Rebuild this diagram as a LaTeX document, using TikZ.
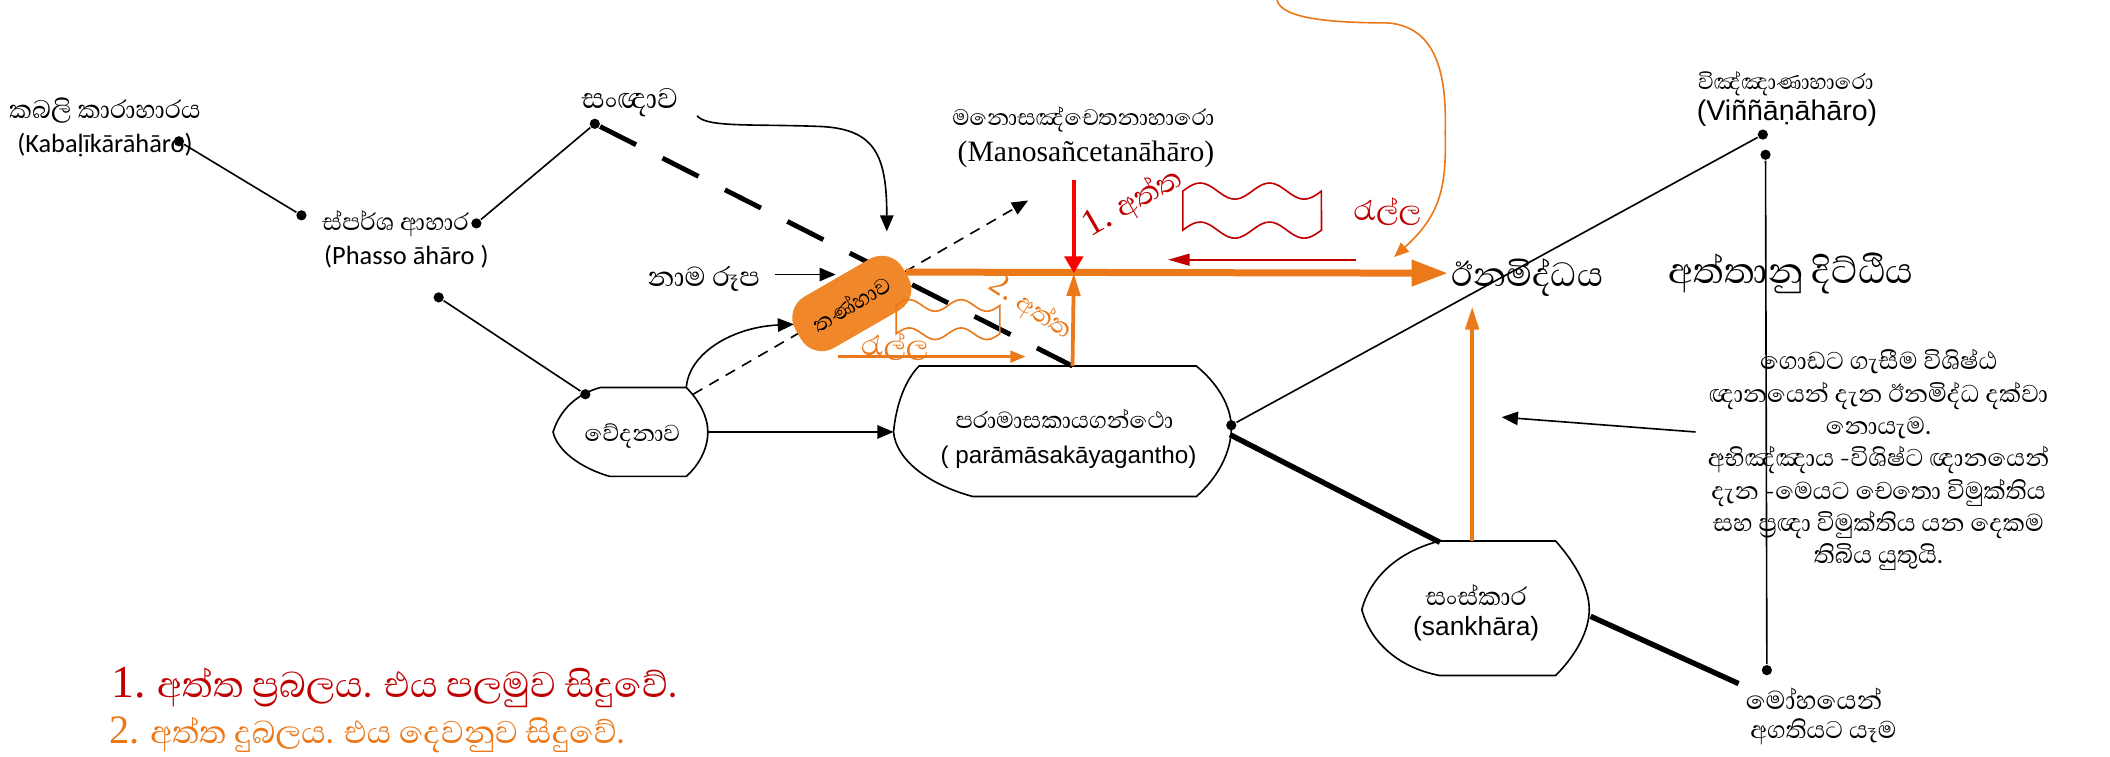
\documentclass[tikz,border=0pt]{standalone}
\usepackage{fontspec}
\setmainfont{Liberation Serif}
\newfontfamily\sinfont[Script=Sinhala]{Abhaya Libre}
\newfontfamily\carl{Carlito}
\newfontfamily\arial{Liberation Sans}
\newfontfamily\tms{Liberation Serif}
\usetikzlibrary{arrows.meta}

\definecolor{orng}{RGB}{235,120,25}
\definecolor{boxorng}{RGB}{240,135,42}
\definecolor{dkred}{RGB}{192,0,0}
\newcommand{\sz}[1]{\fontsize{#1}{#1}\selectfont}

\tikzset{every picture/.style={line width=0.6pt}}

\begin{document}
\begin{tikzpicture}[x=0.5pt,y=0.5pt,yscale=-1,
  dot/.style={circle,fill=black,inner sep=0pt,minimum size=3.8pt},
  lbl/.style={inner sep=0.75pt,align=center},
  blk/.style={-{Triangle[length=6pt,width=5pt]}},
  heavy/.style={line width=2pt},
  bigdash/.style={line width=1.8pt,dash pattern={on 15pt off 11pt}},
  orngbar/.style={orng,line width=2.6pt,-{Triangle[length=13.5pt,width=9.3pt]}},
  orngup/.style={orng,line width=1.4pt,-{Triangle[length=8.5pt,width=5pt]}},
  tanhabox/.style={rotate=30,fill=boxorng,rounded corners=9pt,minimum width=46pt,minimum height=22pt,inner sep=1pt,font=\sinfont\sz{10.5}}]
\useasboundingbox (0,0) rectangle (1568,562);

%Dots
\node[dot] (dk) at (133,105) {};
\node[dot] (dp1) at (224,160) {};
\node[dot] (dp2) at (354,166) {};
\node[dot] (ds) at (442,92) {};
\node[dot] (dv1) at (326,221) {};
\node[dot] (dv2) at (435,293) {};
\node[dot] (dpar) at (915,316) {};
\node[dot] (dvin) at (1310,100) {};
\node[dot] (dvin2) at (1312,115) {};
\node[dot] (dmoh) at (1313,498) {};

%Free ends
\coordinate (ved-top) at (510,288);
\coordinate (ved-ne) at (515,293);
\coordinate (ved-e) at (526,321);
\coordinate (par-w) at (664,321);
\coordinate (par-n) at (797,272);
\coordinate (par-e) at (914,323);
\coordinate (sank-nw) at (1070,403);
\coordinate (sank-n) at (1094,402);
\coordinate (sank-e) at (1182,458);
\coordinate (junc) at (798,203);
\coordinate (red-top) at (798,134);
\coordinate (mano-tip) at (764,149);
\coordinate (sanna-tail) at (518,86);
\coordinate (tanha-tip) at (659,172);
\coordinate (nr-tail) at (576,204);
\coordinate (nr-tip) at (621,204);
\coordinate (ved-tip) at (590,241);
\coordinate (inam-tip) at (1094,228);
\coordinate (para-tail) at (1260,321);
\coordinate (para-tip) at (1116,310);
\coordinate (back-tail) at (1008,193);
\coordinate (back-tip) at (868,193);
\coordinate (loop-tail) at (949,0);
\coordinate (loop-tip) at (1036,191);
\coordinate (low-tail) at (623,265);
\coordinate (low-tip) at (762,265);

%Shape: Vedana
\draw (446,288) -- (510,288) .. controls (520,298) and (526,310) .. (526,321) .. controls (526,333) and (520,345) .. (510,354) -- (453,354) .. controls (432,348) and (414,335) .. (411,321) .. controls (416,305) and (428,293) .. (446,288) -- cycle ;
%Shape: Paramasa
\draw (683,272) -- (889,272) .. controls (905,285) and (915,302) .. (915,318) .. controls (915,336) and (905,355) .. (889,369) -- (723,369) .. controls (690,360) and (666,342) .. (664,321) .. controls (666,300) and (673,282) .. (683,272) -- cycle ;
%Shape: Sankhara
\draw (1070,402) -- (1156,402) .. controls (1172,420) and (1181,438) .. (1181,453) .. controls (1181,468) and (1172,486) .. (1156,502) -- (1070,502) .. controls (1038,496) and (1018,476) .. (1012,453) .. controls (1018,430) and (1038,410) .. (1070,402) -- cycle ;

%Straight Lines
\draw (dk) -- (dp1) ;
\draw (dp2) -- (ds) ;
\draw (dv1) -- (dv2) ;
\draw (dpar) -- (dvin) ;
\draw (dvin2) -- (dmoh) ;
\draw [bigdash] (ds) -- (par-n) ;
\draw [heavy] (par-e) -- (sank-nw) ;
\draw [heavy] (sank-e) -- (1292,508) coordinate (moh-nw) ;
\draw [dash pattern={on 4pt off 3pt},blk] (ved-ne) -- (mano-tip) ;
\draw [blk] (ved-e) -- (par-w) ;
\draw [blk] (para-tail) -- (para-tip) ;
\draw [blk] (nr-tail) -- (nr-tip) ;
\draw [blk] (sanna-tail) .. controls (525,95) and (560,92) .. (610,94) .. controls (650,96) and (659,115) .. (tanha-tip) ;
\draw [blk] (ved-top) .. controls (512,262) and (545,243) .. (ved-tip) ;

%Shape: Tanha box
\node[tanhabox] (tanha) at (633,225.5) {තණ්හාව};

%Orange and red arrows
\draw [orngbar] (tanha.east) -- (1076,203) coordinate (inam-in) ;
\draw [orngup] (par-n) -- (junc) ;
\draw [orngup] (sank-n) -- (inam-tip) ;
\draw [red,line width=1.4pt,-{Triangle[length=6.2pt,width=6.8pt]}] (red-top) -- (junc) ;
\draw [dkred,line width=0.7pt,-{Triangle[length=8pt,width=4.4pt]}] (back-tail) -- (back-tip) ;
\draw [orng,line width=0.9pt,-{Triangle[length=5.6pt,width=4.4pt]}] (low-tail) -- (low-tip) ;
\draw [orng,-{Triangle[length=5.5pt,width=4.5pt]}] (loop-tail) .. controls (952,14) and (990,17) .. (1031,17) .. controls (1070,20) and (1075,60) .. (1074,99) .. controls (1075,140) and (1070,160) .. (loop-tip) ;

%Shape: Waves
\draw [dkred] plot[domain=0:1,samples=41,smooth] ({879+103*\x},{142-6*sin(720*\x)}) -- plot[domain=1:0,samples=41,smooth] ({879+103*\x},{171-6*sin(720*\x)}) -- cycle ;
\draw [orng] plot[domain=0:1,samples=41,smooth] ({666+77*\x},{227-4.3*sin(720*\x)}) -- plot[domain=1:0,samples=41,smooth] ({666+77*\x},{248-4.3*sin(720*\x)}) -- cycle ;

% Text Node
\node[lbl,font=\sinfont\sz{12}] (kabali) at (78,82) {කබලි කාරාහාරය};
\node[lbl,font=\carl\sz{9.8}] (kabali-l) at (78,108) {(Kabaḷīkārāhāro)};
\node[lbl,font=\sinfont\sz{11.4}] (phasso) at (294,166) {ස්පර්ශ ආහාර};
\node[lbl,font=\carl\sz{9.8}] (phasso-l) at (302,191) {(Phasso āhāro )};
\node[lbl,font=\sinfont\sz{13.5}] (sanna) at (468,76) {සංඥාව};
\node[lbl,font=\sinfont\sz{10.7}] (mano) at (805,89) {මනොසඤ්චෙතනාහාරො};
\node[lbl,font=\tms\sz{11}] (mano-l) at (807,115) {(Manosañcetanāhāro)};
\node[lbl,font=\sinfont\sz{13}] (namarupa) at (523,207) {නාම රූප};
\node[lbl,font=\sinfont\sz{11}] (vedana) at (470,324) {වේදනාව};
\node[lbl,font=\sinfont\sz{11}] (paramasa) at (791,311) {පරාමාසකායගන්ථො};
\node[lbl,font=\arial\sz{9}] (paramasa-l) at (794,340) {( parāmāsakāyagantho)};
\node[lbl,font=\sinfont\sz{12}] (sankhara) at (1097,442) {සංස්කාර};
\node[lbl,font=\arial\sz{9.8}] (sankhara-l) at (1097,467) {(sankhāra)};
\node[lbl,font=\sinfont\sz{10.3}] (vinnana) at (1327,62) {විඤ්ඤාණාහාරො};
\node[lbl,font=\arial\sz{10.6}] (vinnana-l) at (1328,84) {(Viññāṇāhāro)};
\node[lbl,font=\sinfont\sz{16}] (inam) at (1135,206) {ඊනමිද්ධය};
\node[lbl,font=\sinfont\sz{17}] (attanu) at (1331,203) {අත්තානු දිට්ඨිය};
\node[lbl,font=\sinfont\fontsize{11.6}{12}\selectfont] (para) at (1396,342) {ගොඩට ගැසීම  විශිෂ්ඨ\\ඥානයෙන් දැන ඊනමිද්ධ දක්වා\\නොයැම.\\අභිඤ්ඤාය -විශිෂ්ට ඥානයෙන්\\දැන -මෙයට චෙතො විමුක්තිය\\සහ ප්^^^^200dරඥා විමුක්තිය යන  දෙකම\\තිබිය යුතුයි.};
\node[lbl,font=\sinfont\sz{12.3}] (moha) at (1348,519) {මෝහයෙන්};
\node[lbl,font=\sinfont\sz{11.5}] (moha-2) at (1355,544) {අගතියට යෑම};
\node[lbl,font=\sinfont\sz{14},text=dkred,rotate=30] (attha-1) at (842,151) {{\tms 1.} අත්ත};
\node[lbl,font=\sinfont\sz{13},text=dkred] (ralla-1) at (1031,157) {රැල්ල};
\node[lbl,font=\sinfont\sz{12},text=orng,rotate=-33] (attha-2) at (766,229) {{\tms 2.} අත්ත};
\node[lbl,font=\sinfont\sz{13},text=orng] (ralla-2) at (665,258) {රැල්ල};
\node[lbl,font=\sinfont\sz{17},text=dkred,anchor=west] (legend-1) at (81,511) {{\tms 1.} අත්ත ප්^^^^200dරබලය. එය පලමුව සිදුවේ.};
\node[lbl,inner sep=0pt,font=\sinfont\sz{15},text=orng,anchor=west] (legend-2) at (81,546) {{\tms 2.} අත්ත  දුබලය. එය දෙවනුව සිදුවේ.};

\end{tikzpicture}
\end{document}
